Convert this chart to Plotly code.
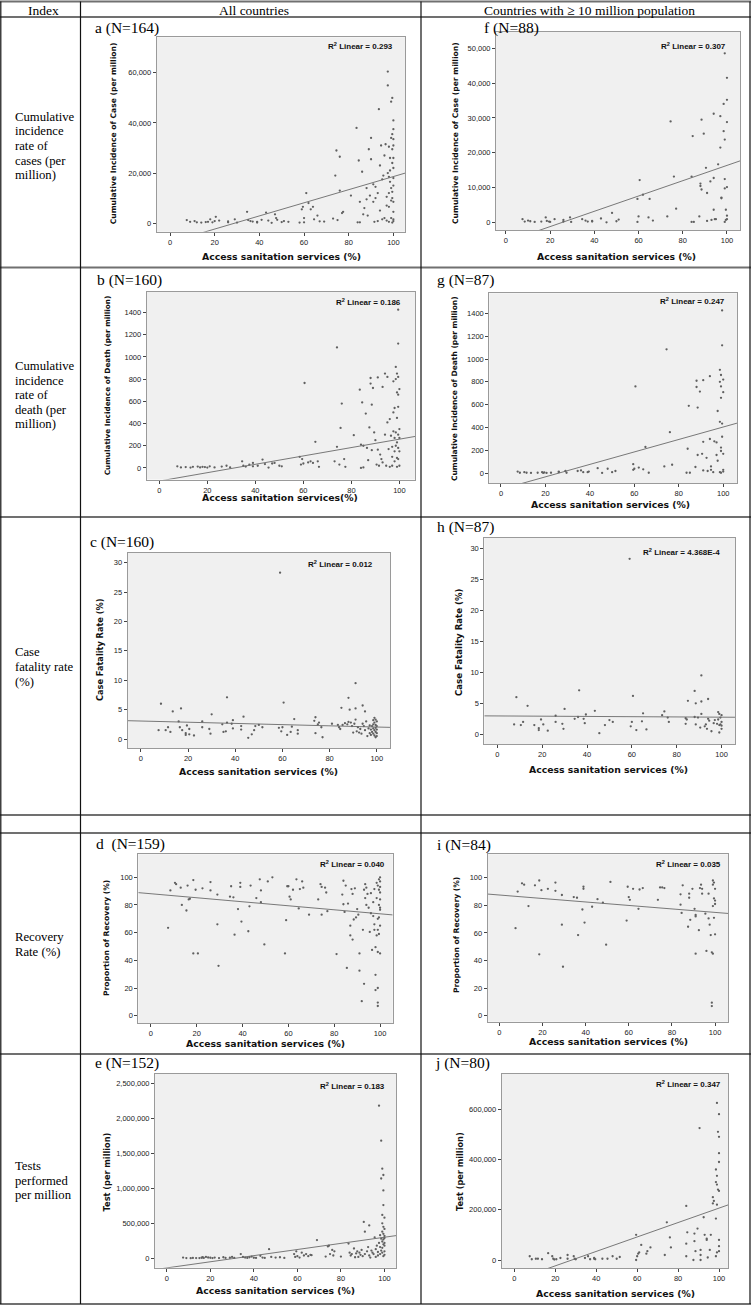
import plotly.graph_objects as go

W, H = 752, 1306

# ---------------- data ----------------
x_ticks = [0, 20, 40, 60, 80, 100]

# (sanitation %, value)
a_points = [(7.5,1200),(9,500),(11,800),(12,300),(14,200),(16,400),(17,500),(18,1500),(19,300),(20,800),(20.5,2500),(22,1000),(26,700),(26,300),(29,1500),(30,200),(34.5,4500),(35,1200),(36,800),(37,600),(39,500),(39,200),(41,1300),(43,4200),(44,1000),(45.5,100),(47,3500),(47.5,2000),(48,1300),(50,400),(51,800),(53,500),(58,200),(59,5500),(59.5,6500),(60,2000),(60,300),(61,12000),(62,8000),(63,5500),(64,6500),(64.5,1500),(66,3000),(67,700),(69,600),(73,1800),(74,19000),(74.5,29000),(75,1200),(76,13000),(76,26500),(77,4000),(77.5,4500),(81,11000),(83.5,38000),(84,300),(84.5,25000),(85,8500),(85,300),(86,20500),(86.5,3500),(87,6000),(88,9500),(88,14000),(88.5,3000),(89,29500),(89.5,11000),(90,25500),(90,34000),(91,15500),(91,8500),(91.5,500),(92,10000),(92,14500),(93,12000),(93,800),(93.5,45500),(94,23000),(94,5000),(94.5,31000),(95,17500),(95,1500),(95.5,19000),(96,27000),(96,2000),(96.5,31500),(97,10500),(97,7000),(97,1000),(97.5,55000),(97.5,20000),(97.5,60500),(98,30500),(98,18500),(98,12000),(98,6500),(98,500),(98.5,16500),(98.5,26000),(98.5,21000),(99,14000),(99,34000),(99,48500),(99,9000),(99,2000),(99.5,24000),(99.5,35500),(99.5,50000),(99.5,29500),(99.5,10000),(99.5,12500),(99.5,200),(100,41000),(100,37500),(100,33500),(100,31000),(100,26000),(100,22000),(100,18000),(100,15000),(100,8500),(100,4500),(100,1500),(100,800)]
a_fit = [262.0, -7610.0]
a_yticks = [0, 20000, 40000, 60000]

f_points = [(7.5,1000),(8.5,300),(10,600),(11,400),(13,200),(16,300),(18,1500),(18.5,500),(19.5,300),(20,200),(22,1000),(26,800),(26,300),(29,1500),(29.5,200),(34.5,1000),(36,600),(37,300),(39,500),(39,300),(43,1200),(45.5,100),(48,2800),(50,400),(51,900),(59.5,6800),(59.5,200),(60,1800),(60.5,12200),(62,8000),(64.5,1500),(65,6800),(66.5,600),(73,1800),(74.5,29000),(76,13200),(77,4000),(84,13200),(84,200),(84.5,24800),(85,200),(87.5,1800),(88,11200),(88,10500),(88.5,29500),(88.5,9500),(89.5,25500),(90.5,15700),(91,8500),(91,500),(92.5,11800),(93,800),(94,31200),(94,12800),(94,3700),(94.5,1000),(95,1000),(96,16700),(97,30500),(97,21500),(97.5,7200),(97.5,7000),(98.5,34000),(98.5,26200),(99,48500),(99,23800),(99,12500),(99,9800),(99,200),(99.5,3700),(99.5,800),(100,41500),(100,35200),(100,28800),(100,10200),(100,2000),(100,1000)]
f_fit = [219.0, -5500.0]
f_yticks = [0, 10000, 20000, 30000, 40000, 50000]

b_points = [(7.5,15),(9,5),(11,8),(13,3),(14,10),(16,12),(17,5),(18,10),(19,8),(20,3),(21,15),(23,5),(26,12),(28,20),(29.5,5),(34.5,60),(35,20),(36,12),(37.5,30),(39,15),(39,45),(41,20),(43,75),(44,35),(45.5,3),(47,40),(48,45),(50,20),(51,15),(58.5,100),(59.5,80),(59,30),(60.5,765),(60,40),(62,50),(63,60),(64,45),(65,235),(66,60),(66.5,10),(73,60),(74,1085),(74,190),(75,30),(76,580),(75.5,360),(77,80),(77.5,10),(81,295),(83.5,705),(84,210),(84,0),(84.5,590),(85,5),(85,200),(86,490),(86.5,180),(87,70),(87.5,365),(88,810),(88,760),(88.5,570),(88.5,160),(89,720),(89.5,320),(90,250),(90.5,30),(91,815),(91,165),(91.5,20),(92,120),(92.5,80),(93,730),(93,50),(94,850),(94,300),(94.5,20),(95,820),(95,410),(95.5,170),(96,440),(96,10),(96.5,290),(97,190),(97,100),(97,20),(97.5,780),(97.5,500),(97.5,330),(98,540),(98,270),(98,150),(98,60),(98.5,910),(98.5,800),(98.5,320),(98.5,200),(99,850),(99,680),(99,450),(99,230),(99,90),(99,10),(99.5,1425),(99.5,1120),(99.5,820),(99.5,660),(99.5,550),(99.5,300),(99.5,180),(99.5,80),(100,710),(100,350),(100,270),(100,150),(100,20)]
b_fit = [3.77, -118.0]
b_yticks = [0, 200, 400, 600, 800, 1000, 1200, 1400]

g_points = [(7.5,15),(8.5,5),(10.5,10),(11.5,5),(13.5,3),(16.5,5),(18.5,10),(19,3),(19.5,8),(20.5,3),(22.5,5),(26,15),(26,10),(29,20),(29.5,5),(34.5,20),(36,25),(37,10),(39,10),(39.5,15),(43.5,45),(45.5,3),(48,40),(50,10),(51.5,20),(59.5,80),(59.5,30),(60,40),(60.5,760),(62,50),(64,35),(65,230),(66.5,5),(73.5,60),(74.5,1085),(76,360),(77,75),(83.5,5),(84,215),(84.5,590),(85,5),(87.5,55),(88,755),(88,810),(88.5,575),(88.5,160),(89.5,715),(90.5,170),(91,815),(91,275),(91,25),(92.5,135),(93,20),(94,850),(94,300),(94.5,60),(94.5,30),(95.5,10),(96,280),(97,270),(97,160),(97.5,545),(97.5,110),(98.5,905),(98.5,800),(98.5,450),(98.5,10),(99,860),(99,760),(99,660),(99,225),(99,195),(99,5),(99.5,1425),(99.5,1120),(99.5,435),(99.5,320),(100,820),(100,710),(100,170),(100,30),(100,15)]
g_fit = [5.45, -140.0]
g_yticks = [0, 200, 400, 600, 800, 1000, 1200, 1400]

c_points = [(7.5,1.5),(8.5,6.0),(10.5,1.5),(11.5,2.0),(12.5,1.2),(13.5,4.7),(16,3.0),(16.5,2.0),(17,5.2),(17.5,1.5),(19,1.0),(19,0.7),(19.5,2.3),(20.5,1.7),(20.5,0.8),(22.5,0.6),(26,3.0),(26,2.0),(29,1.7),(29.5,0.9),(30,4.2),(34.5,2.5),(35,1.2),(36,1.3),(36.5,2.8),(36.5,7.1),(38.5,2.6),(39,1.8),(39,3.2),(43.5,3.8),(42.5,2.2),(42.5,1.6),(45.5,0.2),(47,0.8),(48,1.5),(48.5,2.2),(50,2.4),(51.5,2.0),(58.5,1.9),(59,28.3),(59.5,1.3),(60,2.0),(60.5,6.2),(62,0.7),(63.5,1.2),(64,2.1),(65,3.4),(66.5,1.5),(66.5,0.9),(73.5,3.1),(74,3.7),(74,1.0),(75,2.5),(75.5,2.8),(76.5,2.0),(77,0.3),(81,2.6),(83.5,2.4),(84,2.0),(84.5,1.7),(85,5.3),(85.5,2.4),(86.5,2.7),(87.5,2.5),(88,7.0),(88,2.9),(88.5,5.0),(89,2.8),(89.5,2.2),(90,1.1),(90.5,2.6),(91,9.5),(91,5.2),(91,3.3),(91.5,1.3),(92,2.0),(92.5,1.1),(93,1.7),(93.5,0.9),(94,5.7),(94,2.6),(94.5,2.2),(95,4.7),(95,1.5),(95.5,3.0),(96,0.5),(96.5,1.8),(97,2.3),(97,1.0),(97.5,1.6),(97.5,0.7),(98,2.2),(98,1.2),(98.5,3.2),(98.5,2.5),(98.5,1.8),(98.5,0.9),(99,3.6),(99,2.8),(99,1.5),(99,0.6),(99.5,3.3),(99.5,2.4),(99.5,1.9),(99.5,1.2),(99.5,0.3),(100,3.0),(100,2.2),(100,1.6),(100,1.0),(100,0.5)]
c_fit = [-0.0102, 3.06]
c_yticks = [0, 5, 10, 15, 20, 25, 30]

h_points = [(7.5,1.6),(8.5,6.0),(10.5,1.5),(11.5,2.0),(13.5,4.6),(16.5,1.5),(18.5,1.0),(18.5,0.7),(19.5,2.4),(20.5,1.6),(22.5,0.6),(26,3.0),(26,2.0),(29,1.7),(29.5,0.9),(30,4.1),(34.5,2.5),(36,2.8),(36.5,7.1),(38.5,2.5),(39,1.8),(39.5,3.2),(43.5,3.8),(45.5,0.2),(48,1.5),(50,2.3),(51.5,2.0),(59,28.3),(59.5,1.3),(60,2.0),(60.5,6.2),(62,0.7),(64.5,2.1),(65,3.4),(66.5,0.8),(73.5,3.1),(74.5,3.7),(76,2.7),(76.5,2.0),(84,2.6),(84,1.7),(84.5,2.4),(85,5.4),(88,7.0),(88,2.8),(88.5,5.0),(88.5,1.6),(89.5,2.7),(90.5,1.1),(91,9.5),(91,5.3),(91,3.3),(92.5,1.3),(93,1.6),(93.5,0.9),(94,5.7),(94,2.5),(94.5,2.2),(95.5,0.5),(96.5,1.8),(97,2.3),(98,1.7),(98.5,3.6),(98.5,2.4),(99,3.3),(99,1.5),(99,0.3),(99.5,2.7),(99.5,1.6),(100,3.1),(100,2.0),(100,1.4),(100,0.9)]
h_fit = [-0.002, 2.97]
h_yticks = [0, 5, 10, 15, 20, 25, 30]

d_points = [(7.5,63.5),(8.5,90.5),(10.5,96),(11,95),(13,92.5),(13.5,80),(15.5,76),(16,94),(16.5,84),(17,84.5),(18.5,98),(18.5,45),(19.5,91),(20.5,45),(22.5,92),(26,96.5),(26,90.5),(29,87.5),(29,66),(29.5,36),(34.5,86),(35,93.5),(36,85.5),(36.5,58.5),(38,77),(39,96),(39,93),(39.5,68),(42.5,61),(43,79),(43.5,94),(46,85),(47.5,98.5),(48,90.5),(48,82),(49.5,51.5),(51,97),(53,100),(58.5,45),(59,69),(59.5,93.5),(60,93.5),(60.5,86),(61,84),(62,91),(63.5,98.5),(64.5,77.5),(65,91.5),(66,97),(66.5,92.5),(69,73),(73,84),(74,95),(74.5,93),(74.5,73),(76,92.5),(76.5,89),(77,75.5),(81,44.5),(83.5,87.5),(84,80.5),(84,97.5),(84.5,75),(85,94),(85.5,34.5),(86,81),(87,58),(87,65),(87.5,91.5),(88,88),(88,55),(88.5,69.5),(89,92),(89.5,71),(90,77),(90.5,73),(91,45),(91,32.5),(92,10.5),(92.5,62),(93,91),(93,23),(93.5,95),(93.5,85),(94,92.5),(94,80),(94.5,88),(95,78),(95.5,60.5),(96,88.5),(96,74),(96.5,47.5),(97,82),(97,72),(97.5,91.5),(97.5,66),(97.5,62),(98,49.5),(98,29.5),(98,18.5),(98.5,96),(98.5,85),(98.5,58),(99,94),(99,70),(99,62),(99,46),(99,20),(99,9.5),(99,7),(99.5,98.5),(99.5,91),(99.5,80),(99.5,71),(99.5,59),(100,100),(100,97),(100,93),(100,89),(100,84),(100,78),(100,76.5),(100,65),(100,45)]
d_fit = [-0.145, 88.1]
d_yticks = [0, 20, 40, 60, 80, 100]

i_points = [(7.5,63.5),(8.5,90),(10.5,96),(11.5,95),(13.5,79.5),(16.5,94.5),(18.5,98),(18.5,44.5),(19.5,91),(22.5,92),(26,96.5),(26,90.5),(29,87.5),(29,66),(29.5,35.5),(34.5,86),(36,85.5),(36.5,58.5),(38.5,77),(39,93.5),(39,92),(39.5,67.5),(43,79),(45.5,84.5),(48,82),(49.5,51.5),(51.5,97),(59.5,93.5),(59,69),(60,86),(60.5,84),(62,92),(64.5,77.5),(65,91.5),(66.5,92.5),(73.5,84),(74.5,93),(75.5,93),(76.5,92.5),(84,88),(84,80.5),(84.5,74.5),(85,94.5),(87.5,64.5),(88,88.5),(88,85.5),(88.5,69.5),(89.5,92),(90.5,77.5),(91,73),(91,72),(91,45),(92.5,62),(93,92.5),(93.5,95),(94,88.5),(94,92),(95.5,74),(96,47),(97,88.5),(97,70.5),(97.5,66),(98,58.5),(98.5,46),(98.5,9.5),(98.5,7),(99,98),(99,95),(99,79.5),(99,45),(99.5,96.5),(99.5,85),(99.5,71),(100,92),(100,83.5),(100,81),(100,59)]
i_fit = [-0.126, 87.5]
i_yticks = [0, 20, 40, 60, 80, 100]

e_points = [(7.5,10000),(9,3000),(11,2000),(12,5000),(13.5,4000),(15,3000),(16,8000),(16.5,15000),(17,5000),(18,20000),(19,12000),(20,8000),(21,3000),(22,10000),(24,4000),(26,15000),(27,5000),(29,8000),(30,20000),(31,5000),(34,60000),(35,20000),(36,10000),(37,5000),(38,15000),(39,25000),(40,8000),(41,5000),(43,35000),(44,10000),(45,5000),(47,130000),(48,20000),(50,10000),(52,15000),(54,5000),(58.5,60000),(59,20000),(59.5,100000),(60,30000),(61,10000),(62,80000),(63,40000),(64,60000),(65,30000),(66,50000),(66.5,45000),(69,260000),(73,25000),(74,170000),(74.5,180000),(75,60000),(76,120000),(76.5,40000),(77,100000),(80,25000),(83.5,210000),(84,80000),(84.5,40000),(85,60000),(86,140000),(86.5,15000),(87,70000),(87.5,100000),(88,20000),(88.5,80000),(89,50000),(89.5,120000),(90,30000),(90.5,520000),(91,380000),(91,60000),(92,100000),(92.5,160000),(93,470000),(93,40000),(93.5,10000),(94,110000),(94.5,80000),(95,60000),(95.5,300000),(96,130000),(96,20000),(96.5,180000),(97,90000),(97,40000),(97.5,2180000),(97.5,220000),(98,160000),(98,330000),(98,60000),(98.5,1680000),(98.5,1140000),(98.5,280000),(98.5,110000),(99,1280000),(99,620000),(99,500000),(99,380000),(99,240000),(99,150000),(99,80000),(99.5,1190000),(99.5,970000),(99.5,760000),(99.5,450000),(99.5,350000),(99.5,270000),(99.5,200000),(99.5,30000),(100,580000),(100,420000),(100,320000),(100,290000),(100,220000),(100,180000),(100,100000),(100,50000)]
e_fit = [4380.0, -137000.0]
e_yticks = [0, 500000, 1000000, 1500000, 2000000, 2500000]

j_points = [(7.5,15000),(8.5,3000),(10.5,5000),(11.5,5000),(13.5,3000),(16.5,27000),(18.5,15000),(19,5000),(19.5,2000),(20.5,3000),(22.5,8000),(26,20000),(26,5000),(29,15000),(29.5,5000),(30,3000),(34.5,8000),(36,15000),(37,3000),(39,5000),(39,8000),(39.5,3000),(43,5000),(45.5,5000),(48,15000),(50,5000),(51.5,12000),(59.5,100000),(59.5,0),(60,15000),(60.5,25000),(61,30000),(62,60000),(64.5,25000),(65,35000),(66.5,50000),(73.5,20000),(74.5,150000),(76,90000),(76.5,50000),(84,215000),(84,65000),(84,15000),(84.5,110000),(87.5,0),(88,105000),(88,75000),(88.5,35000),(89.5,125000),(90.5,525000),(91,40000),(91,20000),(91,0),(92.5,170000),(93,100000),(94,85000),(94,80000),(94.5,10000),(95.5,40000),(96,100000),(97,250000),(97,225000),(97.5,235000),(98.5,360000),(98.5,310000),(98.5,165000),(98.5,15000),(99,625000),(99,335000),(99,300000),(99,220000),(99,30000),(99.5,510000),(99.5,280000),(100,580000),(100,490000),(100,425000),(100,390000),(100,275000),(100,80000),(100,55000),(100,35000)]
j_fit = [2870.0, -80600.0]
j_yticks = [0, 200000, 400000, 600000]

r2_values = {"a": "0.293", "b": "0.186", "c": "0.012", "d": "0.040", "e": "0.183",
             "f": "0.307", "g": "0.247", "h": "4.368E-4", "i": "0.035", "j": "0.347"}
n_values = {"a": 164, "b": 160, "c": 160, "d": 159, "e": 152,
            "f": 88, "g": 87, "h": 87, "i": 84, "j": 80}

header_texts = ["Index", "All countries", "Countries with \u2265 10 million population"]
row_labels = [["Cumulative", "incidence", "rate of", "cases (per", "million)"],
              ["Cumulative", "incidence", "rate of", "death (per", "million)"],
              ["Case", "fatality rate", "(%)"],
              ["Recovery", "Rate (%)"],
              ["Tests", "performed", "per million"]]

XT = "Access sanitation services (%)"
YT_CASE = "Cumulative Incidence of Case (per million)"
YT_DEATH = "Cumulative Incidence of Death (per million)"
YT_CFR = "Case Fatality Rate (%)"
YT_REC = "Proportion of Recovery (%)"
YT_TEST = "Test (per million)"

# ---------------- layout geometry (pixels) ----------------
specs = [
    dict(k="a", pts=a_points, fit=a_fit, yt=a_yticks, fmt=",d", ytitle=YT_CASE, xtitle=XT, sep="",
         box=(156.7, 405, 37.3, 231.7), xr=(-5.96, 105.2), yr=(-3430, 74200),
         lab=(93, 28), ytp=(113.3, 133), xtp=(281.7, 256.7), r2p=(395, 45.7), yts=7.6),
    dict(k="f", pts=f_points, fit=f_fit, yt=f_yticks, fmt=",d", ytitle=YT_CASE, xtitle=XT, sep="",
         box=(496, 740, 31.7, 230), xr=(-4.5, 105.9), yr=(-2100, 54700),
         lab=(481.7, 28), ytp=(455, 133), xtp=(616.7, 256.7), r2p=(728, 45.7), yts=7.6),
    dict(k="b", pts=b_points, fit=b_fit, yt=b_yticks, fmt="d", ytitle=YT_DEATH,
         xtitle="Access sanitation services(%)", sep="",
         box=(146.7, 415, 291.7, 479.5), xr=(-5.25, 106.5), yr=(-104, 1587),
         lab=(95, 280), ytp=(108.3, 385), xtp=(280, 497.5), r2p=(403.3, 301.7), yts=7.3),
    dict(k="g", pts=g_points, fit=g_fit, yt=g_yticks, fmt="d", ytitle=YT_DEATH, xtitle=XT, sep="",
         box=(489.3, 737, 293.3, 483.3), xr=(-5.26, 106.2), yr=(-87.5, 1575),
         lab=(435, 280), ytp=(455, 388), xtp=(610, 504.3), r2p=(726.7, 301), yts=7.5),
    dict(k="c", pts=c_points, fit=c_fit, yt=c_yticks, fmt="d", ytitle=YT_CFR, xtitle=XT, sep="",
         box=(127.7, 390, 552.7, 748.3), xr=(-5.6, 105.6), yr=(-1.58, 31.7),
         lab=(87.7, 542.3), ytp=(100, 650), xtp=(258.7, 771.7), r2p=(375, 564.3), yts=8.2),
    dict(k="h", pts=h_points, fit=h_fit, yt=h_yticks, fmt="d", ytitle=YT_CFR, xtitle=XT, sep="",
         box=(484.3, 735, 537.7, 744.3), xr=(-5.8, 106), yr=(-1.6, 31.7),
         lab=(435, 526.7), ytp=(458.3, 641.7), xtp=(608.3, 769), r2p=(721.7, 552.3), yts=8.6),
    dict(k="d", pts=d_points, fit=d_fit, yt=d_yticks, fmt="d", ytitle=YT_REC, xtitle=XT, sep=" ",
         box=(138.3, 392.7, 854.3, 1023.3), xr=(-5.5, 105.5), yr=(-5.5, 116.6),
         lab=(94.3, 844.3), ytp=(106.7, 938.3), xtp=(265, 1043.3), r2p=(386.7, 864.3), yts=7.6),
    dict(k="i", pts=i_points, fit=i_fit, yt=i_yticks, fmt="d", ytitle=YT_REC, xtitle=XT, sep="",
         box=(487.7, 728, 854.3, 1021.7), xr=(-5.4, 106), yr=(-4.3, 117),
         lab=(435, 845), ytp=(456, 935), xtp=(608.3, 1041.7), r2p=(723.3, 864.3), yts=7.6),
    dict(k="e", pts=e_points, fit=e_fit, yt=e_yticks, fmt=",d", ytitle=YT_TEST, xtitle=XT, sep="",
         box=(155, 396, 1074, 1267.7), xr=(-5.4, 105.3), yr=(-134000, 2633000),
         lab=(93.3, 1063.3), ytp=(106.7, 1171.7), xtp=(275.3, 1290), r2p=(386.7, 1085.7), yts=8.2),
    dict(k="j", pts=j_points, fit=j_fit, yt=j_yticks, fmt=",d", ytitle=YT_TEST, xtitle=XT, sep="",
         box=(501.7, 728, 1074, 1268.3), xr=(-6.2, 104.4), yr=(-33000, 740000),
         lab=(433.3, 1063.3), ytp=(459.3, 1171.7), xtp=(615, 1293.3), r2p=(722.7, 1084.3), yts=8.2),
]


def px(x):
    return x / W


def py(y):
    return 1 - y / H


SANS = "Liberation Sans, Arial, sans-serif"
WIDE = "DejaVu Sans, Verdana, sans-serif"
SERIF = "Liberation Serif, Times New Roman, serif"

fig = go.Figure()
layout = {}
annotations = []
shapes = []

for n, s in enumerate(specs, start=1):
    xa = "x" if n == 1 else f"x{n}"
    ya = "y" if n == 1 else f"y{n}"
    xkey = "xaxis" if n == 1 else f"xaxis{n}"
    ykey = "yaxis" if n == 1 else f"yaxis{n}"
    l, r, t, b = s["box"]
    xs = [p[0] for p in s["pts"]]
    ys = [p[1] for p in s["pts"]]
    fig.add_trace(go.Scatter(x=xs, y=ys, mode="markers", xaxis=xa, yaxis=ya,
                             marker=dict(size=2.3, color="#606060", symbol="circle"),
                             showlegend=False, hoverinfo="skip"))
    slope, icpt = s["fit"]
    lx = [s["xr"][0], s["xr"][1]]
    ly = [slope * v + icpt for v in lx]
    fig.add_trace(go.Scatter(x=lx, y=ly, mode="lines", xaxis=xa, yaxis=ya,
                             line=dict(color="#6a6a6a", width=0.9),
                             showlegend=False, hoverinfo="skip"))
    common = dict(ticks="outside", ticklen=3, tickwidth=1, tickcolor="#444",
                  showline=True, mirror=True, linecolor="#9a9a9a", linewidth=1,
                  showgrid=False, zeroline=False, fixedrange=True,
                  tickfont=dict(family=SANS, size=7.5, color="#222"))
    layout[xkey] = dict(domain=[px(l), px(r)], range=list(s["xr"]), anchor=ya,
                        tickvals=x_ticks, **common)
    layout[ykey] = dict(domain=[py(b), py(t)], range=list(s["yr"]), anchor=xa,
                        tickvals=s["yt"], tickformat=s["fmt"], **common)
    k = s["k"]
    annotations.append(dict(text=f"{k} {s['sep']}(N={n_values[k]})", x=px(s["lab"][0]), y=py(s["lab"][1]),
                            xref="paper", yref="paper", xanchor="left", yanchor="middle", showarrow=False,
                            font=dict(family=SERIF, size=15.5, color="#000")))
    annotations.append(dict(text=f"<b>{s['ytitle']}</b>", x=px(s["ytp"][0]), y=py(s["ytp"][1]),
                            xref="paper", yref="paper", xanchor="center", yanchor="middle", showarrow=False,
                            textangle=-90, font=dict(family=WIDE, size=s["yts"], color="#111")))
    annotations.append(dict(text=f"<b>{s['xtitle']}</b>", x=px(s["xtp"][0]), y=py(s["xtp"][1]),
                            xref="paper", yref="paper", xanchor="center", yanchor="middle", showarrow=False,
                            font=dict(family=WIDE, size=9.3, color="#111")))
    annotations.append(dict(text=f"<b>R<sup>2</sup> Linear = {r2_values[k]}</b>", x=px(s["r2p"][0]),
                            y=py(s["r2p"][1]), xref="paper", yref="paper", xanchor="right",
                            yanchor="middle", showarrow=False,
                            font=dict(family=SANS, size=8, color="#111")))

# ---------------- table ----------------
hlines = [1.5, 17, 267.5, 517, 815, 833, 1054, 1304]
for yv in hlines:
    shapes.append(dict(type="line", xref="paper", yref="paper", x0=px(0), x1=px(751),
                       y0=py(yv), y1=py(yv), line=dict(color="#707070", width=2)))
for xv in [0.8, 80.5, 421, 750]:
    shapes.append(dict(type="line", xref="paper", yref="paper", x0=px(xv), x1=px(xv),
                       y0=py(1.5), y1=py(1304), line=dict(color="#111", width=1.2)))

header_pos = [(43, 10), (254, 10), (589, 10)]
for txt, (hx, hy) in zip(header_texts, header_pos):
    annotations.append(dict(text=txt, x=px(hx), y=py(hy), xref="paper", yref="paper",
                            xanchor="center", yanchor="middle", showarrow=False,
                            font=dict(family=SERIF, size=13.5, color="#000")))

row_starts = [116.7, 366, 652.3, 937.3, 1166]
for lines, y0 in zip(row_labels, row_starts):
    for m, line in enumerate(lines):
        annotations.append(dict(text=line, x=px(13), y=py(y0 + 14.6 * m), xref="paper", yref="paper",
                                xanchor="left", yanchor="middle", showarrow=False,
                                font=dict(family=SERIF, size=12.7, color="#000")))

fig.update_layout(width=W, height=H, margin=dict(l=0, r=0, t=0, b=0),
                  paper_bgcolor="white", plot_bgcolor="#f0f0f0",
                  annotations=annotations, shapes=shapes, **layout)

fig.write_html("out.html", config={"displayModeBar": False},
               post_script="document.body.style.margin='0';document.body.style.overflow='hidden';")
